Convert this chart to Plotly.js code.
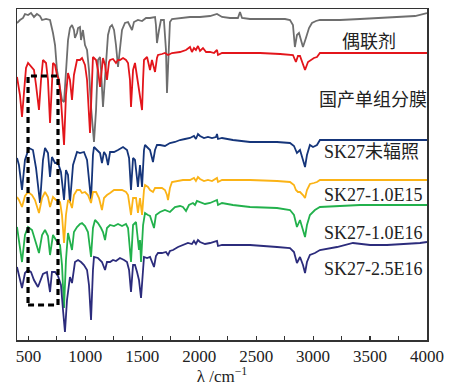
<!DOCTYPE html>
<html>
<head>
<meta charset="utf-8">
<script src="https://cdn.plot.ly/plotly-3.0.1.min.js"></script>
<style>html,body{margin:0;padding:0;background:#fff;}#chart{width:456px;height:386px;}</style>
</head>
<body>
<div id="chart"></div>
<script>
// FTIR spectra, vertically offset (wavenumber cm^-1, transmittance a.u.)
const couplingAgent = [[400,317],[426,320],[453,322],[470,326],[497,325],[523,327],[549,323],[575,326],[602,324],[620,320],[655,321],[690,320],[716,307],[734,295],[751,270],[778,250],[795,240],[813,238],[830,270],[848,300],[865,312],[883,315],[900,310],[909,302],[927,307],[936,312],[953,313],[962,300],[979,310],[997,295],[1015,290],[1032,270],[1050,233],[1067,210],[1076,198],[1094,230],[1111,280],[1129,283],[1138,270],[1155,233],[1173,260],[1199,305],[1217,313],[1234,315],[1252,310],[1269,295],[1287,273],[1304,290],[1322,310],[1348,317],[1375,318],[1392,314],[1410,310],[1427,318],[1462,320],[1498,319],[1533,322],[1568,322],[1612,323],[1620,315],[1629,297],[1647,310],[1664,320],[1690,320],[1708,290],[1717,247],[1726,280],[1743,318],[1761,321],[1831,322],[1919,323],[2007,323],[2095,324],[2156,326],[2200,323],[2270,322],[2340,322],[2358,328],[2376,322],[2446,321],[2622,321],[2753,321],[2797,320],[2823,315],[2840,293],[2858,305],[2876,307],[2893,300],[2911,293],[2937,302],[2964,312],[2990,317],[3025,319],[3060,320],[3236,320],[3412,321],[3587,322],[3763,323],[3895,324],[4000,327]];

const domesticMembrane = [[400,263],[426,245],[444,223],[461,250],[479,272],[497,277],[523,274],[549,270],[567,255],[593,230],[611,260],[628,280],[655,277],[672,260],[690,217],[707,260],[716,277],[734,275],[751,265],[769,260],[786,240],[813,195],[830,245],[848,267],[865,260],[883,240],[900,265],[927,280],[953,280],[971,282],[997,275],[1015,260],[1041,207],[1059,260],[1067,283],[1094,280],[1111,270],[1129,253],[1146,278],[1155,282],[1173,275],[1190,260],[1208,278],[1217,280],[1243,281],[1269,277],[1287,280],[1304,280],[1331,282],[1357,280],[1375,277],[1392,260],[1401,233],[1419,270],[1436,277],[1454,263],[1471,250],[1498,230],[1507,260],[1515,280],[1542,283],[1568,270],[1585,280],[1612,268],[1629,282],[1638,285],[1673,286],[1699,287],[1726,285],[1761,287],[1831,288],[1884,290],[1919,293],[1936,288],[1954,292],[1971,290],[1989,294],[2007,289],[2033,292],[2060,288],[2095,288],[2130,287],[2156,290],[2165,285],[2200,287],[2358,287],[2534,287],[2710,286],[2797,285],[2823,285],[2849,278],[2867,284],[2885,284],[2911,275],[2929,270],[2955,278],[2981,280],[3007,282],[3034,283],[3060,287],[3236,287],[3587,287],[4000,287]];

const sk27Unirradiated = [[400,182],[417,175],[444,150],[470,180],[505,192],[540,190],[567,172],[602,137],[628,180],[646,192],[672,187],[690,163],[707,183],[734,177],[760,177],[786,168],[813,140],[830,170],[848,165],[865,137],[892,175],[927,188],[953,187],[988,188],[1015,180],[1050,140],[1067,185],[1076,193],[1102,190],[1129,187],[1146,177],[1164,188],[1181,185],[1199,175],[1217,188],[1252,188],[1287,190],[1331,193],[1366,190],[1384,182],[1401,150],[1419,182],[1436,180],[1462,153],[1480,175],[1498,153],[1515,190],[1524,195],[1550,192],[1568,190],[1594,178],[1612,190],[1629,195],[1656,195],[1699,194],[1743,197],[1787,198],[1831,200],[1875,201],[1919,202],[1954,204],[1971,201],[1989,206],[2007,204],[2042,202],[2077,203],[2112,202],[2147,203],[2156,206],[2165,201],[2200,202],[2296,200],[2446,198],[2578,198],[2683,198],[2797,197],[2832,194],[2858,187],[2885,190],[2911,180],[2929,173],[2946,185],[2972,195],[2999,193],[3034,195],[3060,200],[3324,200],[3675,200],[4000,200]];

const sk27_1_0E15 = [[400,143],[417,140],[444,133],[470,144],[497,148],[532,145],[558,140],[593,127],[620,142],[646,148],[672,143],[690,133],[716,143],[742,140],[778,138],[795,125],[813,97],[830,125],[848,140],[865,138],[883,132],[900,145],[927,150],[953,150],[971,147],[997,148],[1023,145],[1050,137],[1067,148],[1094,148],[1120,142],[1146,130],[1164,142],[1190,145],[1217,147],[1252,150],[1287,150],[1322,150],[1357,148],[1375,145],[1401,125],[1419,142],[1445,142],[1462,127],[1480,142],[1498,125],[1515,150],[1524,155],[1550,153],[1568,150],[1594,148],[1612,152],[1638,152],[1673,152],[1699,150],[1717,145],[1726,140],[1743,152],[1761,158],[1796,159],[1857,160],[1919,160],[1954,162],[1971,159],[1989,163],[2007,161],[2042,159],[2077,160],[2112,159],[2156,162],[2165,158],[2200,160],[2446,160],[2683,159],[2797,158],[2832,155],[2849,150],[2867,148],[2885,148],[2911,145],[2929,142],[2946,150],[2972,156],[3007,157],[3034,158],[3060,160],[3412,160],[4000,160]];

const sk27_1_0E16 = [[400,113],[417,100],[444,78],[470,105],[497,113],[532,110],[558,100],[593,87],[620,105],[646,110],[672,104],[690,85],[716,105],[742,100],[778,95],[795,75],[813,32],[830,80],[848,107],[865,100],[883,90],[900,108],[927,113],[953,116],[971,117],[997,114],[1023,108],[1050,83],[1067,112],[1085,120],[1111,117],[1138,112],[1155,108],[1173,100],[1190,112],[1217,115],[1252,114],[1287,116],[1322,114],[1357,116],[1375,112],[1401,78],[1419,115],[1445,118],[1471,90],[1480,100],[1489,78],[1507,115],[1524,127],[1550,125],[1568,124],[1603,112],[1620,125],[1656,128],[1699,130],[1743,128],[1787,133],[1831,134],[1857,133],[1884,129],[1910,135],[1945,137],[1963,135],[1980,139],[2007,138],[2051,136],[2095,137],[2156,140],[2165,135],[2200,137],[2296,135],[2446,133],[2683,132],[2797,130],[2832,125],[2858,113],[2885,120],[2911,110],[2929,103],[2946,115],[2972,125],[3016,130],[3060,133],[3412,135],[4000,135]];

const sk27_2_5E16 = [[400,73],[417,65],[444,52],[470,67],[497,70],[523,68],[549,60],[584,53],[611,60],[628,66],[663,68],[690,48],[707,68],[734,68],[760,64],[786,55],[804,30],[821,8],[839,40],[865,63],[883,57],[909,78],[936,80],[962,78],[988,75],[1015,70],[1032,55],[1050,20],[1067,70],[1076,83],[1111,82],[1146,78],[1173,70],[1190,78],[1217,78],[1243,80],[1269,79],[1304,82],[1340,80],[1366,78],[1384,70],[1401,48],[1419,75],[1436,75],[1454,68],[1471,60],[1489,42],[1507,75],[1515,83],[1542,82],[1568,83],[1603,73],[1620,84],[1638,87],[1673,87],[1708,88],[1726,85],[1743,89],[1770,90],[1814,93],[1857,95],[1901,97],[1936,96],[1954,99],[1971,96],[1989,100],[2007,98],[2051,96],[2095,97],[2156,99],[2165,94],[2200,95],[2296,95],[2446,95],[2683,93],[2797,92],[2832,88],[2858,77],[2885,83],[2911,75],[2929,67],[2946,78],[2972,85],[3016,87],[3060,90],[3210,93],[3350,97],[3500,95],[3649,95],[3807,96],[3939,97],[4000,98]];

const seriesNames = ['偶联剂','国产单组分膜','SK27未辐照','SK27-1.0E15','SK27-1.0E16','SK27-2.5E16'];
const seriesColors = ['#6e6e6e','#e3151b','#15357a','#fbb316','#22b14c','#2c2c7c'];
// label anchor (wavenumber, offset value)
const labelX = [3236, 3034, 3078, 3078, 3078, 3078];
const labelY = [298, 240, 188, 145, 107, 71];
const xTicks = [500,1000,1500,2000,2500,3000,3500,4000];
const highlightX = [497, 760];
const highlightY = [35, 264];

const allSeries = [couplingAgent, domesticMembrane, sk27Unirradiated, sk27_1_0E15, sk27_1_0E16, sk27_2_5E16];

const traces = allSeries.map((s, i) => ({
  type: 'scatter', mode: 'lines',
  x: s.map(p => p[0]), y: s.map(p => p[1]),
  name: seriesNames[i],
  line: {color: seriesColors[i], width: 1.8},
  hoverinfo: 'skip'
}));

const serif = 'Liberation Serif, Times New Roman, serif';
const textFont = {family: 'Liberation Serif, Noto Sans CJK SC, serif', size: 18, color: '#222'};

const annotations = seriesNames.map((n, i) => ({
  x: labelX[i], y: labelY[i], xref: 'x', yref: 'y',
  text: n, showarrow: false, xanchor: 'left', yanchor: 'middle',
  font: textFont
}));

const layout = {
  width: 456, height: 386,
  margin: {l: 17, r: 29, t: 9, b: 46},
  paper_bgcolor: '#fff', plot_bgcolor: '#fff',
  showlegend: false,
  font: {family: serif, color: '#222'},
  xaxis: {
    range: [400, 4000], tickvals: xTicks, ticktext: xTicks.map(String),
    ticks: 'inside', ticklen: 4, tickwidth: 1.2, tickcolor: '#333',
    minor: {ticks: 'inside', dtick: 250, tick0: 500, ticklen: 4, tickwidth: 1.2, tickcolor: '#333', showgrid: false},
    showline: true, linecolor: '#333', linewidth: 1.5, mirror: true,
    showgrid: false, zeroline: false,
    tickfont: {family: serif, size: 17, color: '#222'},
    title: {text: 'λ /cm<sup>−1</sup>', font: {family: serif, size: 17, color: '#222'}, standoff: 2}
  },
  yaxis: {
    range: [0, 331], showticklabels: false, ticks: '',
    showline: true, linecolor: '#333', linewidth: 1.5, mirror: true,
    showgrid: false, zeroline: false
  },
  shapes: [{
    type: 'rect', xref: 'x', yref: 'y',
    x0: highlightX[0], x1: highlightX[1], y0: highlightY[0], y1: highlightY[1],
    line: {color: '#000', width: 3.2, dash: '6px,4px'}
  }],
  annotations: annotations
};

Plotly.newPlot('chart', traces, layout, {staticPlot: true, displayModeBar: false});
</script>
</body>
</html>
